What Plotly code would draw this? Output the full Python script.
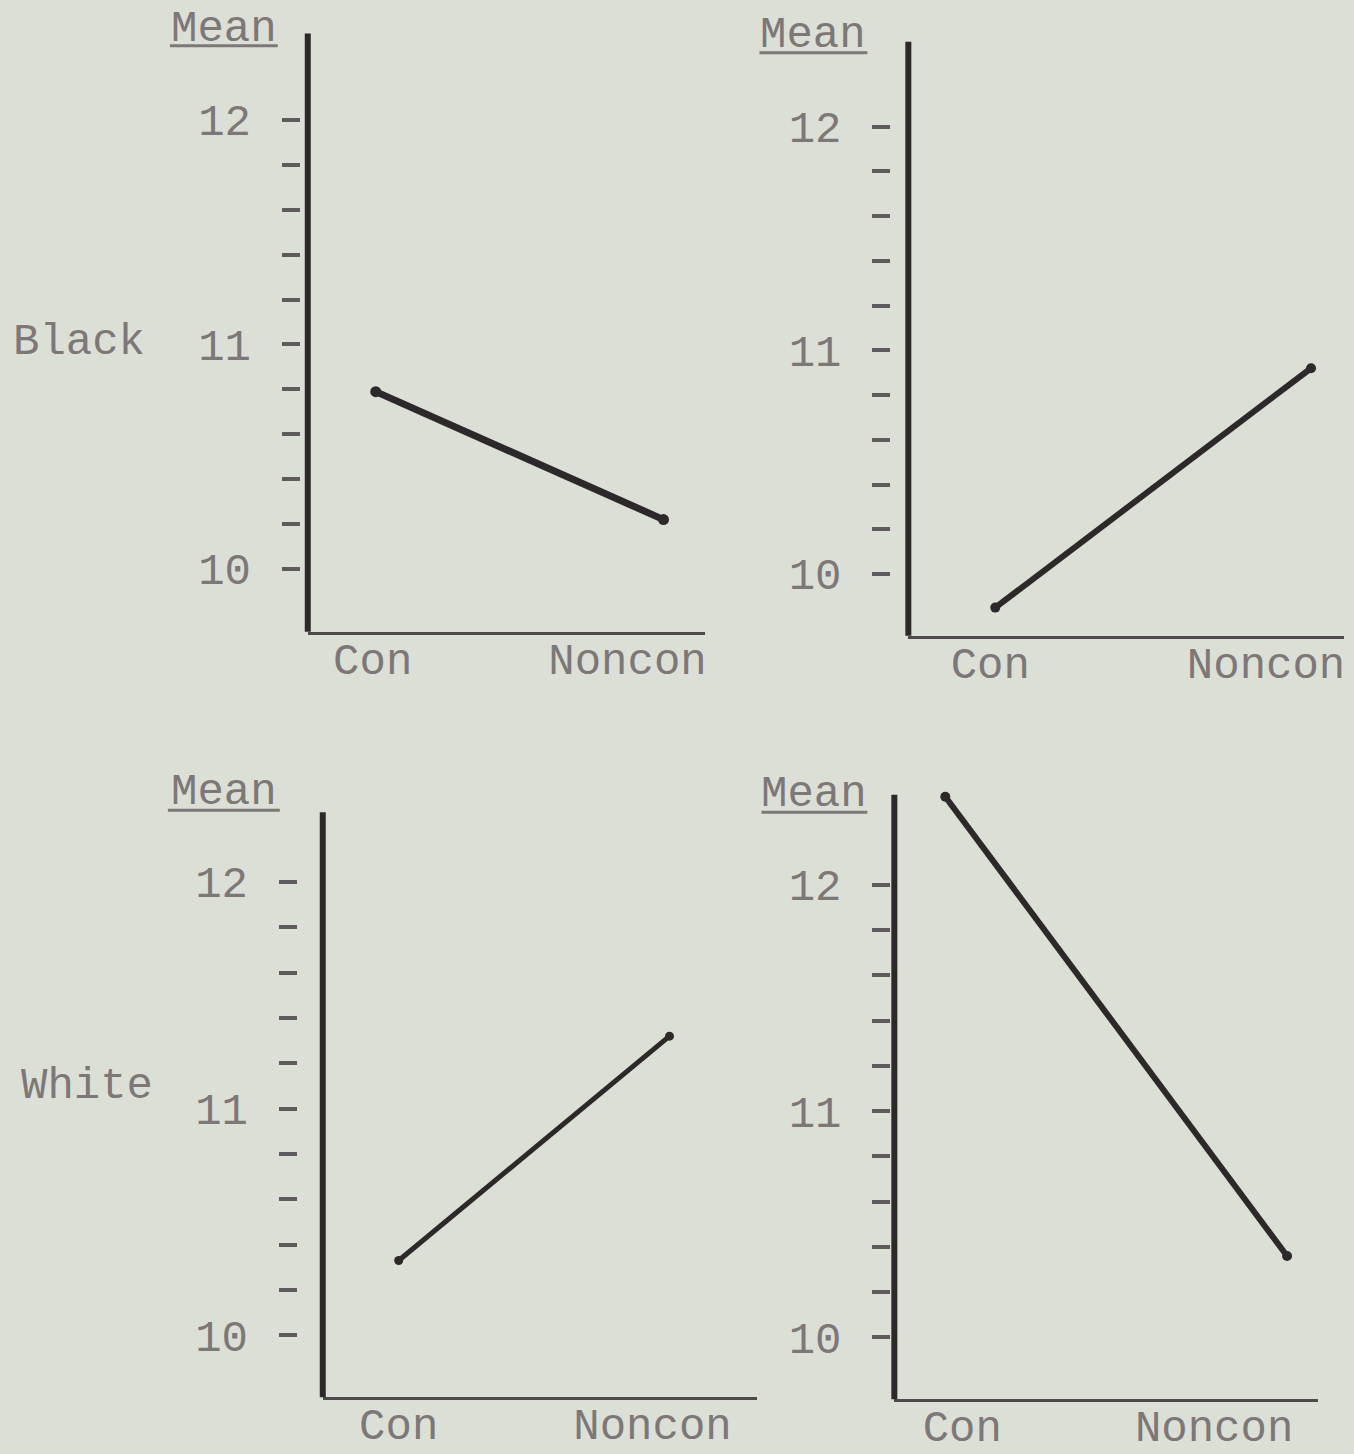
import plotly.graph_objects as go

W, H = 1354, 1454

CATEGORIES = ["Con", "Noncon"]
ROW_LABELS = ["Black", "White"]
Y_TITLE = "Mean"

# means (left column / right column)
BLACK_LEFT = [10.79, 10.22]
BLACK_RIGHT = [9.85, 10.92]
WHITE_LEFT = [10.33, 11.32]
WHITE_RIGHT = [12.39, 10.36]

Y_TICKS = [10.0, 10.2, 10.4, 10.6, 10.8, 11.0, 11.2, 11.4, 11.6, 11.8, 12.0]
Y_TICK_TEXT = ["10", "", "", "", "", "11", "", "", "", "", "12"]

BG = "#dcdfd6"
INK = "#2d292b"
TYPE = "#7d7877"
FONT = "Liberation Mono"
FSIZE = 44

# where each hand-drawn panel sits on the page, in pixels
panels = [
    dict(y=BLACK_LEFT, left=308, right=706, top=33.5, bottom=634, con=376, noncon=664,
         labels=(373, 628), tick_end=300, ymin=9.72, ymax=12.386, width=7,
         mean=(224, 29), underline=(170, 278, 46)),
    dict(y=BLACK_RIGHT, left=909, right=1345, top=42, bottom=638, con=996, noncon=1312,
         labels=(991, 1267), tick_end=891, ymin=9.724, ymax=12.379, width=6,
         mean=(814, 35), underline=(760, 868, 53)),
    dict(y=WHITE_LEFT, left=323, right=758, top=815, bottom=1402, con=399, noncon=670,
         labels=(399, 653), tick_end=297, ymin=9.727, ymax=12.308, width=5,
         mean=(224, 795), underline=(168, 280, 813)),
    dict(y=WHITE_RIGHT, left=895, right=1319, top=797.6, bottom=1404, con=946, noncon=1288,
         labels=(963, 1215), tick_end=891, ymin=9.727, ymax=12.398, width=6,
         mean=(815, 797), underline=(762, 868, 815)),
]


def fx(px):
    return px / W


def fy(py):
    return 1 - py / H


fig = go.Figure()
shapes = []
annotations = []
layout = {}

for i, p in enumerate(panels):
    n = "" if i == 0 else str(i + 1)
    unit = p["noncon"] - p["con"]
    xr = [(p["left"] - p["con"]) / unit, (p["right"] - p["con"]) / unit]
    tickpos = [(lx - p["con"]) / unit for lx in p["labels"]]

    fig.add_trace(go.Scatter(
        x=CATEGORIES, y=p["y"], mode="lines+markers",
        line=dict(color=INK, width=p["width"]),
        marker=dict(color=INK, size=p["width"] + 4),
        xaxis="x" + n, yaxis="y" + n, showlegend=False, cliponaxis=False,
        hovertemplate="%{x}: %{y:.2f}<extra></extra>",
    ))

    layout["xaxis" + n] = dict(
        domain=[fx(p["left"]), fx(p["right"])], anchor="y" + n,
        type="category", range=xr,
        showline=True, linewidth=3, linecolor="#4e494b",
        ticks="", tickmode="array", tickvals=tickpos, ticktext=CATEGORIES,
        tickfont=dict(family=FONT, size=FSIZE, color=TYPE),
        ticklabelstandoff=-14,
        showgrid=False, zeroline=False, fixedrange=True,
    )
    layout["yaxis" + n] = dict(
        domain=[fy(p["bottom"]), fy(p["top"])], anchor="free",
        position=fx(p["tick_end"]), range=[p["ymin"], p["ymax"]],
        showline=False, ticks="outside", ticklen=18, tickwidth=4, tickcolor="#5f5a5b",
        tickmode="array", tickvals=Y_TICKS, ticktext=Y_TICK_TEXT,
        tickfont=dict(family=FONT, size=FSIZE, color=TYPE),
        ticklabelstandoff=22,
        showgrid=False, zeroline=False, fixedrange=True,
    )

    # the heavy vertical axis stroke
    shapes.append(dict(type="line", xref="x" + n + " domain", yref="y" + n + " domain",
                       x0=0, x1=0, y0=0, y1=1, line=dict(color=INK, width=6)))
    # underlined "Mean" heading
    ux0, ux1, uy = p["underline"]
    shapes.append(dict(type="line", xref="paper", yref="paper",
                       x0=fx(ux0), x1=fx(ux1), y0=fy(uy), y1=fy(uy),
                       line=dict(color=TYPE, width=3)))
    mx, my = p["mean"]
    annotations.append(dict(text=Y_TITLE, xref="paper", yref="paper", x=fx(mx), y=fy(my),
                            xanchor="center", yanchor="middle", showarrow=False,
                            font=dict(family=FONT, size=FSIZE, color=TYPE)))

# row labels
for label, (lx, ly) in zip(ROW_LABELS, [(11, 343), (19, 1090)]):
    annotations.append(dict(text=label, xref="paper", yref="paper", x=fx(lx), y=fy(ly),
                            xanchor="left", yanchor="middle", showarrow=False,
                            font=dict(family=FONT, size=FSIZE, color=TYPE)))

fig.update_layout(
    width=W, height=H,
    margin=dict(l=0, r=0, t=0, b=0),
    paper_bgcolor=BG, plot_bgcolor=BG,
    shapes=shapes, annotations=annotations,
    **layout,
)

# drop the browser's default body margin so the page is filled edge to edge
fig.write_html("out.html", config={"displayModeBar": False},
               post_script="document.body.style.margin = '0';")
